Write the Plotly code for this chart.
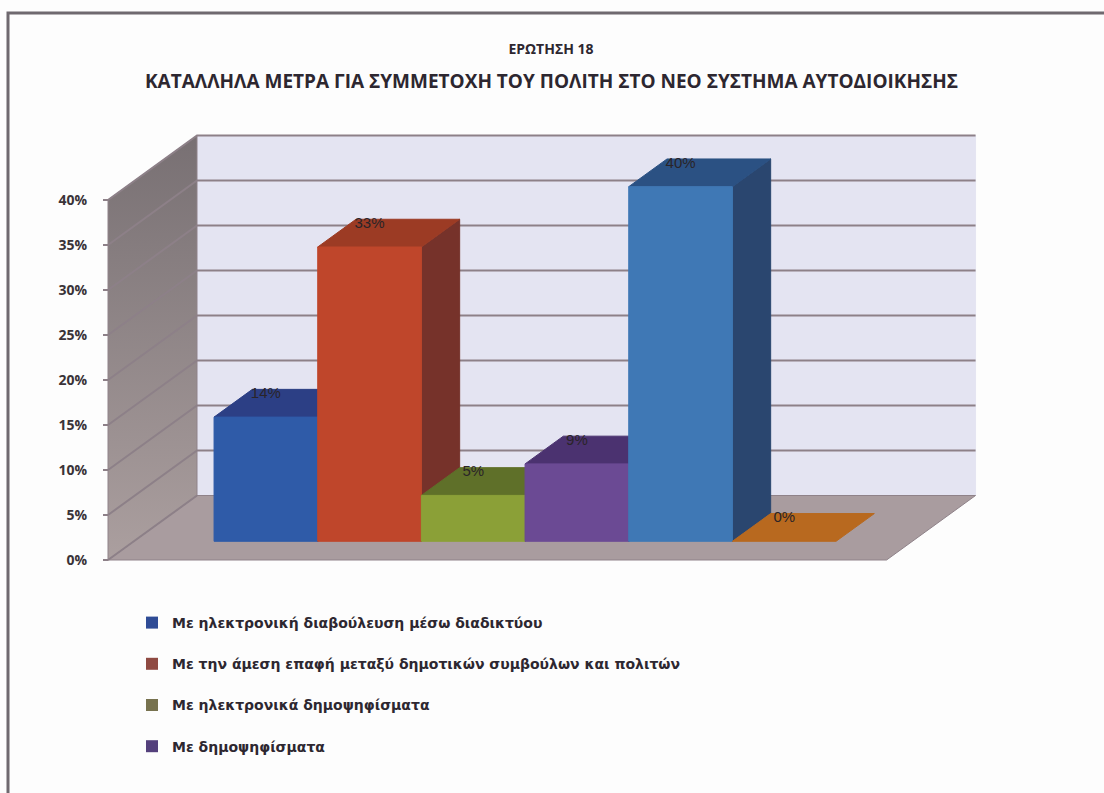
import plotly.graph_objects as go

# ---- data ----
question = "ΕΡΩΤΗΣΗ 18"
chart_title = "ΚΑΤΑΛΛΗΛΑ ΜΕΤΡΑ ΓΙΑ ΣΥΜΜΕΤΟΧΗ ΤΟΥ ΠΟΛΙΤΗ ΣΤΟ ΝΕΟ ΣΥΣΤΗΜΑ ΑΥΤΟΔΙΟΙΚΗΣΗΣ"
values = [13.8, 32.7, 5.1, 8.6, 39.4, 0.0]
labels = ["14%", "33%", "5%", "9%", "40%", "0%"]
legend_names = [
    "Με ηλεκτρονική διαβούλευση μέσω διαδικτύου",
    "Με την άμεση επαφή μεταξύ δημοτικών συμβούλων και πολιτών",
    "Με ηλεκτρονικά δημοψηφίσματα",
    "Με δημοψηφίσματα",
]
legend_colors = ["#2f4c96", "#8f4a42", "#77724f", "#54407c"]
y_ticks = [0, 5, 10, 15, 20, 25, 30, 35, 40]
y_tick_labels = ["0%", "5%", "10%", "15%", "20%", "25%", "30%", "35%", "40%"]
front_colors = ["#2f5ba8", "#bf462b", "#8ba037", "#6b4a94", "#3f78b5", "#c27324"]
top_colors = ["#2c3f85", "#9c3b24", "#5f7029", "#4b3270", "#2b5183", "#b8691f"]
side_colors = ["#24356f", "#76322a", "#4c5a22", "#3e2a5f", "#2a466f", "#a05a1a"]

# ---- oblique projection (category units, percent units) ----
W, H = 1104, 793
X_SCALE, Y_SCALE = 103.67, 9.0        # px per slot, px per percent
ORIGIN_PX, ZERO_PX = 108.0, 560.0
DX, DY = 89 / X_SCALE, 64.5 / Y_SCALE  # full floor depth
FLOOR_W = 7.51
D0, D1 = 0.29, 0.72                    # bar depth range
SLOT0 = 0.774
x_range = [-ORIGIN_PX / X_SCALE, (W - ORIGIN_PX) / X_SCALE]
y_range = [(ZERO_PX - H) / Y_SCALE, ZERO_PX / Y_SCALE]


def pts(*triples):
    xs = [a + d * DX for a, _, d in triples]
    ys = [b + d * DY for _, b, d in triples]
    return xs + xs[:1], ys + ys[:1]


def poly(triples, fill, line=None, width=1, **kw):
    xs, ys = pts(*triples)
    return go.Scatter(x=xs, y=ys, mode="lines", fill="toself", fillcolor=fill,
                      line=dict(color=line or fill, width=width),
                      hoverinfo="skip", showlegend=False, **kw)


fig = go.Figure()
top = y_ticks[-1]
# walls and floor
fig.add_trace(poly([(0, 0, 1), (FLOOR_W, 0, 1), (FLOOR_W, top, 1), (0, top, 1)],
                   "#e4e4f2", "#e4e4f2"))
fig.add_trace(poly([(0, 0, 0), (0, 0, 1), (FLOOR_W, 0, 1), (FLOOR_W, 0, 0)],
                   "#a99c9f", "#8f8289"))
fig.add_trace(go.Scatter(
    x=pts((0, 0, 0), (0, 0, 1), (0, top, 1), (0, top, 0))[0],
    y=pts((0, 0, 0), (0, 0, 1), (0, top, 1), (0, top, 0))[1],
    mode="lines", fill="toself",
    fillgradient=dict(type="vertical",
                      colorscale=[[0, "#ab9f9f"], [1, "#787073"]]),
    line=dict(color="#8f8289", width=1), hoverinfo="skip", showlegend=False))
# gridlines
gx, gy = [], []
for t in y_ticks:
    a = (0.0, t)
    b = (DX, t + DY)
    c = (FLOOR_W + DX, t + DY)
    if t == 0:
        gx += [a[0], b[0], None]
        gy += [a[1], b[1], None]
    else:
        gx += [a[0], b[0], c[0], None]
        gy += [a[1], b[1], c[1], None]
fig.add_trace(go.Scatter(x=gx, y=gy, mode="lines",
                         line=dict(color="#8d8088", width=2),
                         hoverinfo="skip", showlegend=False))
# bars
for i, v in enumerate(values):
    x0, x1 = SLOT0 + i, SLOT0 + i + 1
    if v > 0:
        fig.add_trace(poly([(x1, 0, D0), (x1, 0, D1), (x1, v, D1), (x1, v, D0)],
                           side_colors[i]))
    fig.add_trace(poly([(x0, v, D0), (x0, v, D1), (x1, v, D1), (x1, v, D0)],
                       top_colors[i]))
    if v > 0:
        fig.add_trace(poly([(x0, 0, D0), (x1, 0, D0), (x1, v, D0), (x0, v, D0)],
                           front_colors[i]))
# value labels
fig.add_trace(go.Scatter(
    x=[SLOT0 + i + 0.5 + D0 * DX for i in range(len(values))],
    y=[v + D0 * DY + 2.55 for v in values],
    mode="text", text=labels,
    textfont=dict(family="Liberation Sans", size=15, color="#2a2428"),
    hoverinfo="skip", showlegend=False))
# legend
for name, col in zip(legend_names, legend_colors):
    fig.add_trace(go.Scatter(x=[None], y=[None], mode="markers", name=name,
                             legendgroup=name,
                             marker=dict(symbol="square", size=12, color=col)))

fig.update_layout(
    width=W, height=H, autosize=False,
    margin=dict(l=0, r=0, t=0, b=0),
    paper_bgcolor="#fdfdfd", plot_bgcolor="rgba(0,0,0,0)",
    title=dict(text=question, x=551 / W, xanchor="center", y=1 - 49 / H,
               yanchor="middle",
               font=dict(family="Open Sans", size=14, color="#2d2730", weight="bold")),
    xaxis=dict(range=x_range, visible=False, domain=[0, 1]),
    yaxis=dict(range=y_range, anchor="free", position=ORIGIN_PX / W,
               tickmode="array", tickvals=y_ticks, ticktext=y_tick_labels,
               ticks="outside", ticklen=5, tickwidth=2, tickcolor="#8d8088",
               ticklabelstandoff=13, showgrid=False, zeroline=False, showline=False,
               tickfont=dict(family="Open Sans", size=14, color="#3a3338", weight="bold")),
    legend=dict(x=132 / W, xanchor="left", y=1 - 607 / H, yanchor="top",
                tracegroupgap=20, bgcolor="rgba(0,0,0,0)",
                font=dict(family="DejaVu Sans", size=14, color="#2d2730", weight="bold")),
    annotations=[dict(text=chart_title, xref="paper", yref="paper", x=551 / W,
                      y=1 - 81 / H, xanchor="center", yanchor="middle", showarrow=False,
                      font=dict(family="Open Sans", size=19, color="#2d2730", weight="bold"))],
    shapes=[dict(type="path", xref="paper", yref="paper",
                 path=f"M {8/W},0 L {8/W},{1-13/H} L 1,{1-13/H}",
                 line=dict(color="#6f696f", width=3))],
)
fig.write_html("out.html", config={"displayModeBar": False},
               post_script="document.body.style.margin='0';")
